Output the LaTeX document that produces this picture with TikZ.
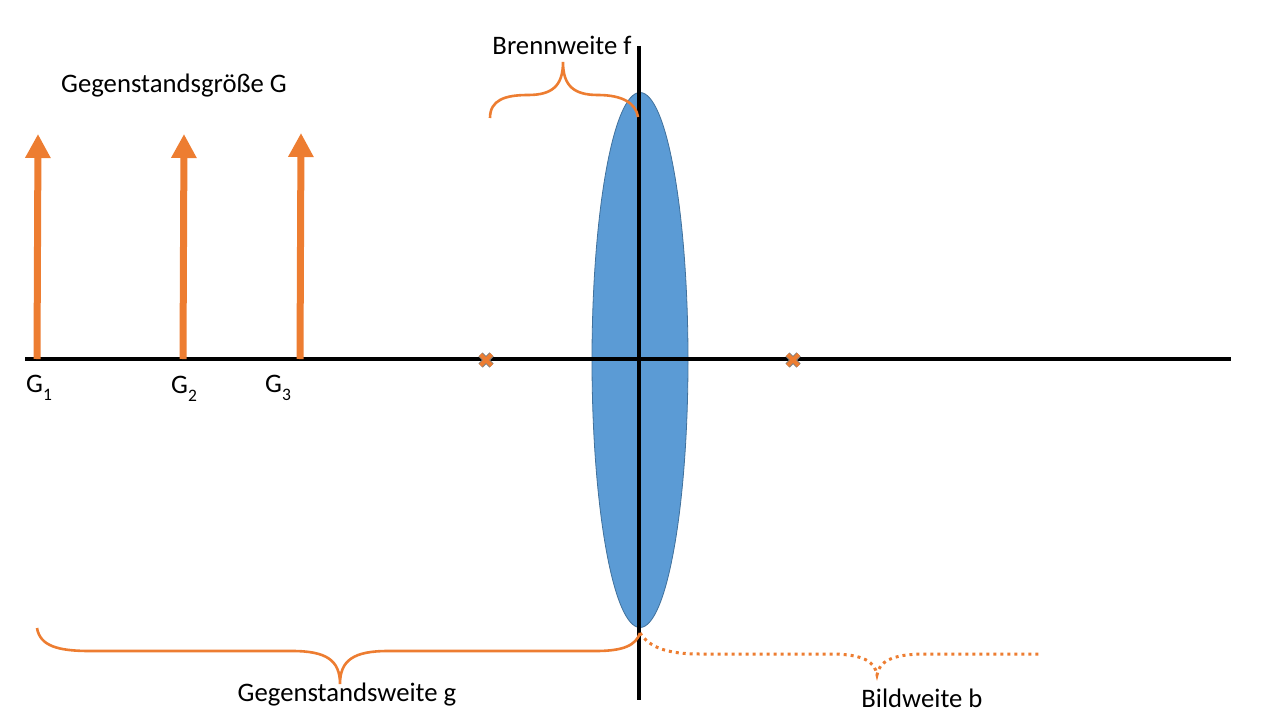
\documentclass[tikz,border=0pt]{standalone}
\usepackage{fontspec}
\setmainfont{Carlito}
\usetikzlibrary{arrows.meta,shapes.geometric}
\definecolor{lensorange}{HTML}{ED7D31}
\definecolor{lensblue}{HTML}{5B9BD5}
\definecolor{lensborder}{HTML}{41719C}
\tikzset{
  lbl/.style={font=\fontsize{26.7}{30}\selectfont, inner sep=0pt},
  objarrow/.style={draw=lensorange, line width=7pt, -{Triangle[width=24pt,length=24pt]}},
  brace/.style={draw=lensorange, line width=2.6pt},
  dotbrace/.style={draw=lensorange, line width=3pt, dash pattern=on 3pt off 4pt},
  axis/.style={draw=black, line width=4pt},
}
\newcommand{\Gsub}[1]{G\raisebox{-0.3em}{\fontsize{17.5}{18}\selectfont #1}}
\begin{document}
\begin{tikzpicture}[x=1pt,y=-1pt]
\useasboundingbox (0,0) rectangle (1280,720);
% lens
\node[draw=lensborder, fill=lensblue, line width=0.8pt, ellipse, minimum width=96pt, minimum height=535pt, inner sep=0pt] (lens) at (640,360) {};
% axes
\coordinate (axL) at (25,359);
\coordinate (axR) at (1231,359);
\coordinate (vT) at (639,46);
\coordinate (vB) at (639,700);
\draw[axis] (axL) -- (axR);
\draw[axis] (vT) -- (vB);
% focal points
\foreach \n/\x in {fl/486, fr/793}{
  \coordinate (\n) at (\x,360);
  \draw[gray, line width=6pt] ([shift={(-5.5,-5.5)}]\n) -- ([shift={(5.5,5.5)}]\n) ([shift={(-5.5,5.5)}]\n) -- ([shift={(5.5,-5.5)}]\n);
  \draw[lensorange, line width=4pt] ([shift={(-5.5,-5.5)}]\n) -- ([shift={(5.5,5.5)}]\n) ([shift={(-5.5,5.5)}]\n) -- ([shift={(5.5,-5.5)}]\n);
}
% object arrows
\coordinate (g1b) at (37,359); \coordinate (g1t) at (38,134);
\coordinate (g2b) at (183,359); \coordinate (g2t) at (184,134);
\coordinate (g3b) at (300,359); \coordinate (g3t) at (301,133);
\draw[objarrow] (g1b) -- (g1t);
\draw[objarrow] (g2b) -- (g2t);
\draw[objarrow] (g3b) -- (g3t);
% labels
\node[lbl] (gg) at (174,86) {Gegenstandsgröße G};
\node[lbl, anchor=west] (G1) at (26,388) {\Gsub{1}};
\node[lbl, anchor=west] (G2) at (171,389) {\Gsub{2}};
\node[lbl, anchor=west] (G3) at (265,388) {\Gsub{3}};
\node[lbl] (bf) at (562,45) {Brennweite f};
\node[lbl] (gw) at (347,695) {Gegenstandsweite g};
\node[lbl] (bw) at (922,698) {Bildweite b};
% top brace (Brennweite)
\coordinate (tbL) at (490,118);
\coordinate (tbT) at (563,62);
\coordinate (tbR) at (638,117);
\draw[brace] (tbL) .. controls (490,100) and (505,95) .. (528,95)
  .. controls (552,95) and (563,86) .. (tbT)
  .. controls (563,86) and (574,95) .. (598,95)
  .. controls (622,95) and (636,103) .. (tbR);
% bottom-left brace (Gegenstandsweite)
\coordinate (bbL) at (37,628);
\coordinate (bbT) at (340,684);
\coordinate (bbR) at (640,633);
\draw[brace] (bbL) .. controls (40,646) and (58,651) .. (90,651) -- (292,651)
  .. controls (326,651) and (340,660) .. (bbT)
  .. controls (340,660) and (354,651) .. (388,651) -- (596,651)
  .. controls (624,651) and (636,645) .. (bbR);
% bottom-right dotted brace (Bildweite)
\coordinate (dbL) at (640,633);
\coordinate (dbT) at (877,675);
\coordinate (dbR) at (1041,654);
\draw[dotbrace] (dbL) .. controls (650,648) and (668,654) .. (700,654) -- (830,654)
  .. controls (864,654) and (875,662) .. (dbT)
  .. controls (879,662) and (891,654) .. (925,654) -- (dbR);
\end{tikzpicture}
\end{document}
